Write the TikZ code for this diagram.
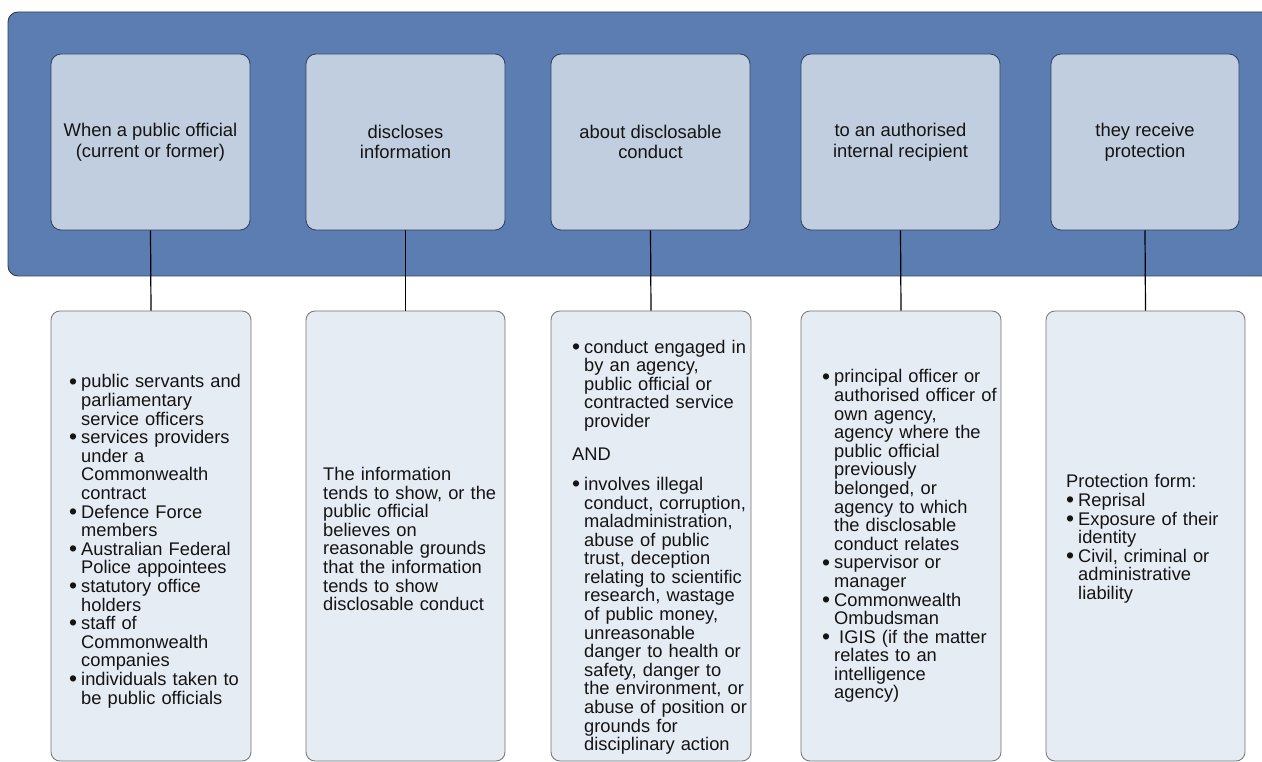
\documentclass[tikz,border=0pt]{standalone}
\usepackage{fontspec}
\setmainfont{Liberation Sans}
\definecolor{bannerblue}{HTML}{5B7DB1}
\definecolor{bannerline}{HTML}{2E3F5C}
\definecolor{topfill}{HTML}{C1CEDF}
\definecolor{lowfill}{HTML}{E6ECF3}
\definecolor{textcol}{HTML}{141414}
\newcommand{\bitem}[1]{\par\noindent\hangindent=12pt\hangafter=1\makebox[12pt][l]{\raisebox{-1.2pt}{\scalebox{1.25}{•}}}{\let\\\newline #1}\par}
\begin{document}
\begin{tikzpicture}[x=1pt,y=-1pt,
  bannerbox/.style={draw=bannerline, line width=0.9pt, fill=bannerblue, rounded corners=10pt, inner sep=0pt},
  topbox/.style={draw=bannerline, line width=0.8pt, fill=topfill, rounded corners=10pt, inner sep=0pt,
    align=center, text=textcol, font=\fontsize{18.4}{20.5}\selectfont},
  lowbox/.style={draw=black!55, line width=0.8pt, fill=lowfill, rounded corners=9pt, inner sep=0pt},
  lowtext/.style={anchor=west, inner sep=0pt, text width=190pt, align=left, text=textcol,
    font=\fontsize{18.3}{18.6}\selectfont},
  link/.style={draw=black, line width=1.2pt}]
\useasboundingbox (0,0) rectangle (1262,762);
\clip (0,0) rectangle (1262,762);
\fill[white] (0,0) rectangle (1262,762);

% banner
\node[bannerbox, minimum width=1282pt, minimum height=264pt] (banner) at (649,144) {};

% top boxes
\node[topbox, minimum width=199pt, minimum height=176pt] (t1) at (150.5,142) {When a public official\\(current or former)};
\node[topbox, minimum width=199pt, minimum height=176pt] (t2) at (405.5,142) {discloses\\information};
\node[topbox, minimum width=199pt, minimum height=176pt] (t3) at (650.5,142) {about disclosable\\conduct};
\node[topbox, minimum width=199pt, minimum height=176pt] (t4) at (900.5,142) {to an authorised\\internal recipient};
\node[topbox, minimum width=188pt, minimum height=176pt] (t5) at (1145,142) {they receive\\protection};

% lower boxes
\node[lowbox, minimum width=200pt, minimum height=450pt] (l1) at (151,536) {};
\node[lowbox, minimum width=199pt, minimum height=450pt] (l2) at (405.5,536) {};
\node[lowbox, minimum width=200pt, minimum height=450pt] (l3) at (651,536) {};
\node[lowbox, minimum width=200pt, minimum height=450pt] (l4) at (901,536) {};
\node[lowbox, minimum width=199pt, minimum height=450pt] (l5) at (1145.5,536) {};

% connectors
\draw[link] (t1.south) -- (l1.north);
\draw[link] (t2.south) -- (l2.north);
\draw[link] (t3.south) -- (l3.north);
\draw[link] (t4.south) -- (l4.north);
\draw[link] (t5.south) -- (l5.north);

% lower texts
\node[lowtext] (x1) at (69,538.5) {%
\bitem{public servants and\\parliamentary\\service officers}%
\bitem{services providers\\under a\\Commonwealth\\contract}%
\bitem{Defence Force\\members}%
\bitem{Australian Federal\\Police appointees}%
\bitem{statutory office\\holders}%
\bitem{staff of\\Commonwealth\\companies}%
\bitem{individuals taken to\\be public officials}};

\node[lowtext] (x2) at (323,539) {%
\noindent The information\\tends to show, or the\\public official\\believes on\\reasonable grounds\\that the information\\tends to show\\disclosable conduct};

\node[lowtext] (x3) at (572,544.5) {%
\bitem{conduct engaged in\\by an agency,\\public official or\\contracted service\\provider}%
\vspace{14.4pt}%
\noindent AND\par
\vspace{11.4pt}%
\bitem{involves illegal\\conduct, corruption,\\maladministration,\\abuse of public\\trust, deception\\relating to scientific\\research, wastage\\of public money,\\unreasonable\\danger to health or\\safety, danger to\\the environment, or\\abuse of position or\\grounds for\\disciplinary action}};

\node[lowtext] (x4) at (822,533.5) {%
\bitem{principal officer or\\authorised officer of\\own agency,\\agency where the\\public official\\previously\\belonged, or\\agency to which\\the disclosable\\conduct relates}%
\bitem{supervisor or\\manager}%
\bitem{Commonwealth\\Ombudsman}%
\bitem{\hspace{5pt}IGIS (if the matter\\relates to an\\intelligence\\agency)}};

\node[lowtext] (x5) at (1066,539) {%
\noindent Protection form:\par
\bitem{Reprisal}%
\bitem{Exposure of their\\identity}%
\bitem{Civil, criminal or\\administrative\\liability}};
\end{tikzpicture}
\end{document}
